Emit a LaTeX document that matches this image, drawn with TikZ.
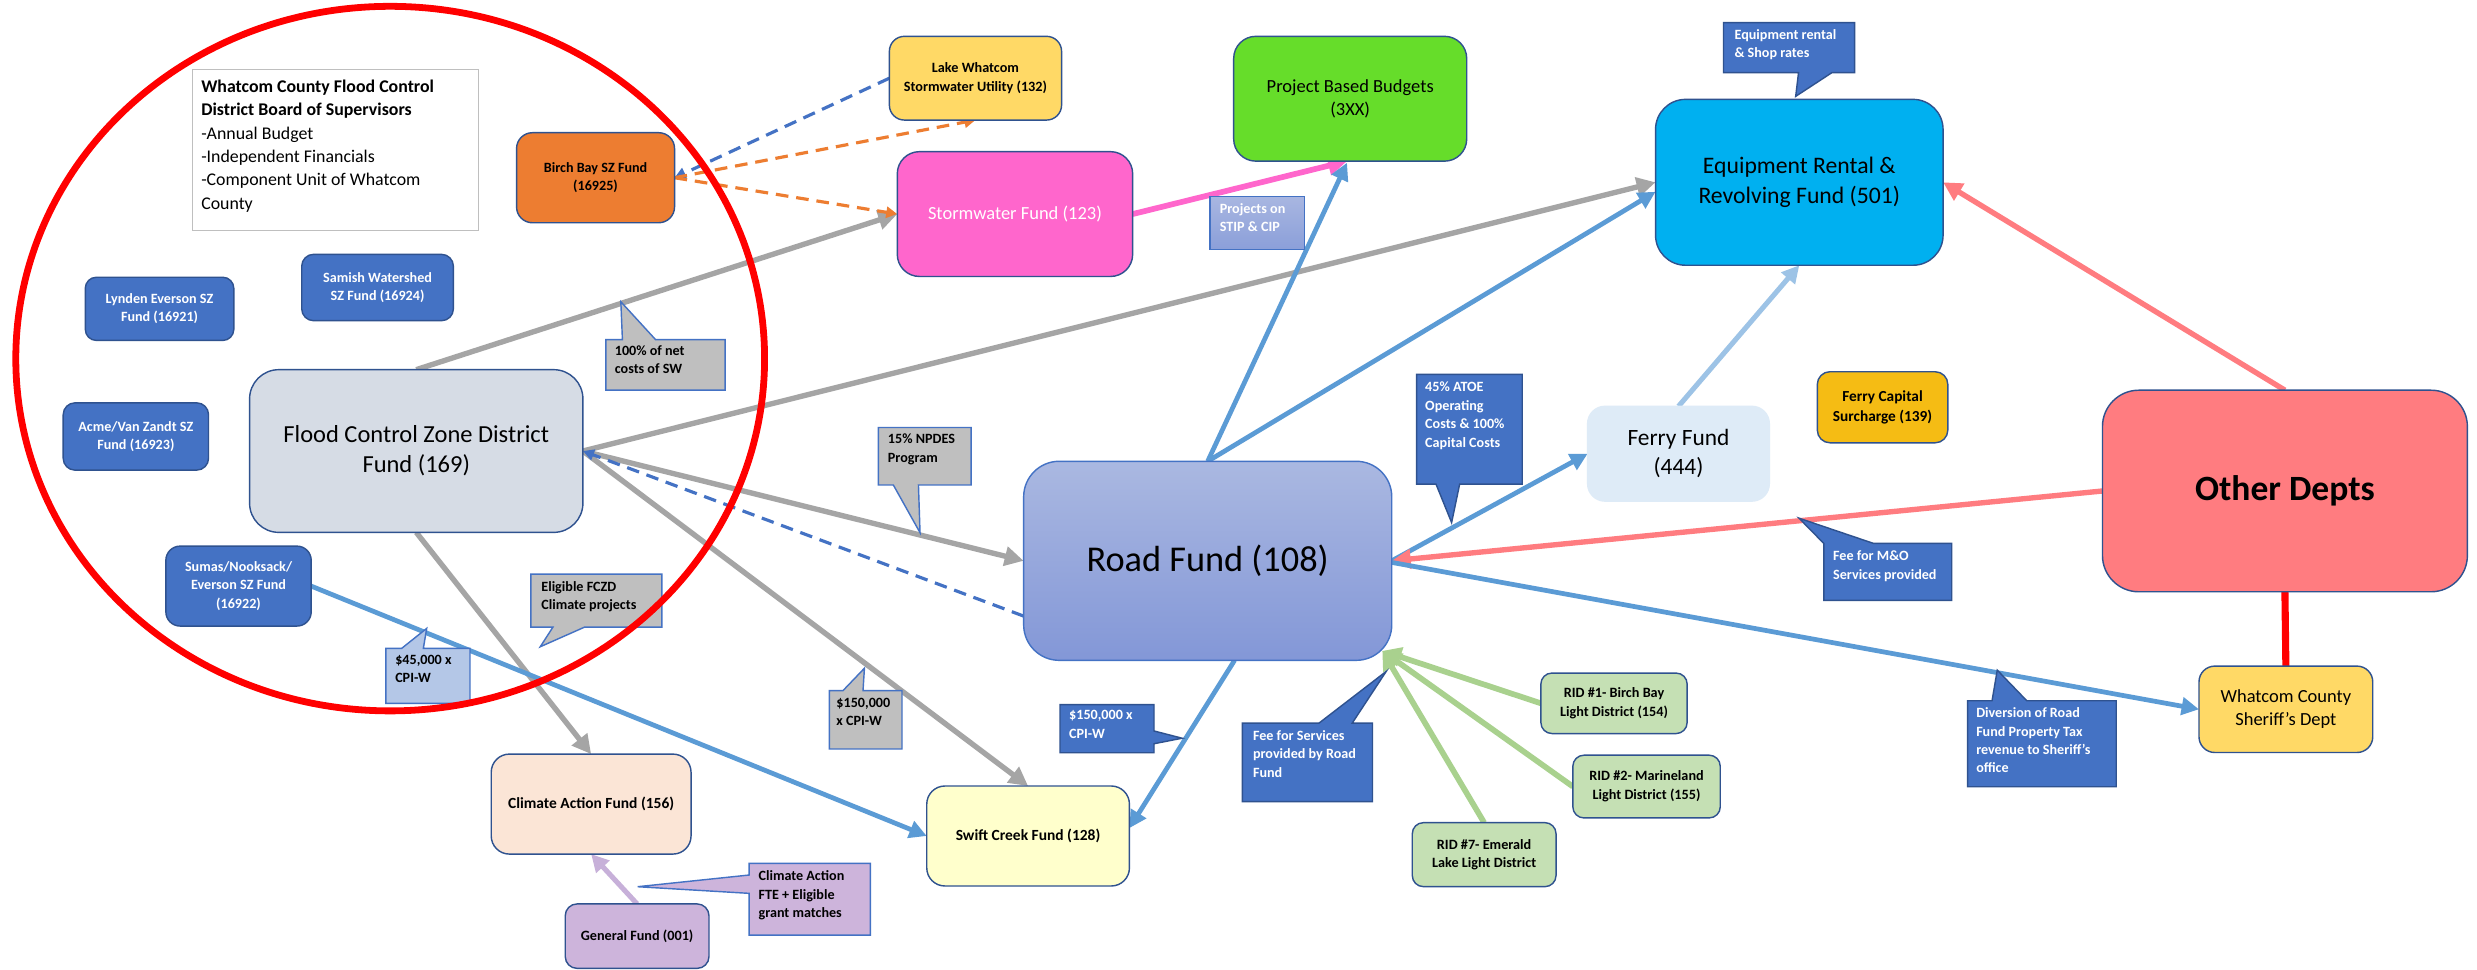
\documentclass[tikz,border=0pt]{standalone}
\usepackage{fontspec}
\setmainfont{Carlito}
\usetikzlibrary{arrows.meta,calc}
\pgfdeclarelayer{bg}
\pgfsetlayers{bg,main}
\definecolor{bordblue}{HTML}{2F528F}
\definecolor{midblue}{HTML}{4472C4}
\definecolor{lineblue}{HTML}{5B9BD5}
\definecolor{linegrey}{HTML}{A5A5A5}
\definecolor{calgrey}{HTML}{BFBFBF}
\definecolor{greybord}{HTML}{BFBFBF}
\definecolor{salmon}{HTML}{FF7C80}
\definecolor{hotpink}{HTML}{FF66CC}
\definecolor{lgreen}{HTML}{A9D18E}
\definecolor{ridgreen}{HTML}{C5E0B4}
\definecolor{paleblue}{HTML}{9DC3E6}
\definecolor{lavline}{HTML}{C7B0D9}
\definecolor{lavfill}{HTML}{CDB4DB}
\definecolor{orangeF}{HTML}{ED7D31}
\definecolor{goldF}{HTML}{FFD966}
\definecolor{amberF}{HTML}{F5BC14}
\definecolor{limeF}{HTML}{66DD2A}
\definecolor{cyanF}{HTML}{00B0F0}
\definecolor{fczdF}{HTML}{D6DCE5}
\definecolor{ferryF}{HTML}{DEEBF7}
\definecolor{swiftF}{HTML}{FFFFCC}
\definecolor{climF}{HTML}{FBE5D6}
\definecolor{lightcal}{HTML}{B4C7E7}
\definecolor{roadTop}{HTML}{AAB8E1}
\definecolor{roadBot}{HTML}{8397D7}
\definecolor{stipTop}{HTML}{A8B6E1}
\definecolor{stipBot}{HTML}{8B9FD9}
\begin{document}
\begin{tikzpicture}[x=1pt,y=-1pt,
  fundbox/.style={draw=bordblue,line width=0.9pt,align=center,inner sep=0pt,outer sep=0pt},
  smallfont/.style={font=\fontsize{8.95}{11.6}\selectfont\bfseries},
  sblue/.style={fundbox,smallfont,fill=midblue,text=white},
  ridbox/.style={fundbox,fill=ridgreen,font=\fontsize{9}{11.9}\selectfont\bfseries,rounded corners=7pt},
  calbox/.style={inner sep=0pt,outer sep=0pt,draw=none},
  caltext/.style={anchor=north west,inner sep=0pt,align=left,smallfont},
  calgreyS/.style={fill=calgrey,draw=midblue,line width=0.9pt},
  calblueS/.style={fill=midblue,draw=bordblue,line width=0.9pt},
  greyarrow/.style={draw=linegrey,line width=3.4pt,-{Triangle[length=12pt,width=12pt]}},
  bluearrow/.style={draw=lineblue,line width=3pt,-{Triangle[length=11pt,width=11pt]}},
  pinkarrow/.style={draw=hotpink,line width=3.6pt,-{Triangle[length=12pt,width=12pt]}},
  salmonarrow/.style={draw=salmon,line width=3.4pt,-{Triangle[length=12pt,width=12pt]}},
  greenarrow/.style={draw=lgreen,line width=3.6pt,-{Triangle[length=12pt,width=12pt]}},
  palearrow/.style={draw=paleblue,line width=3.2pt,-{Triangle[length=11pt,width=11pt]}},
  lavarrow/.style={draw=lavline,line width=3.2pt,-{Triangle[length=11pt,width=11pt]}},
  bluedash/.style={draw=midblue,line width=2pt,dash pattern=on 8pt off 5pt,-{Triangle[length=7pt,width=7pt]}},
  orangedash/.style={draw=orangeF,line width=2pt,dash pattern=on 8pt off 5pt,-{Triangle[length=7pt,width=7pt]}},
  redline/.style={draw=red,line width=4.5pt}
]
\useasboundingbox (0,0) rectangle (1568,614);

% ---------- nodes ----------
\node[fundbox,fill=white,draw=greybord,line width=0.8pt,minimum width=181pt,minimum height=102pt] (whatbox) at (212.5,95) {};
\node[anchor=north west,inner sep=0pt,align=left,font=\fontsize{11.3}{14.8}\selectfont] (whattext) at (127.2,50.4)
  {\textbf{Whatcom County Flood Control}\\\textbf{District Board of Supervisors}\\-Annual Budget\\-Independent Financials\\-Component Unit of Whatcom\\County};

\node[fundbox,smallfont,fill=orangeF,rounded corners=10pt,minimum width=100pt,minimum height=57pt] (birch) at (377,112.5) {Birch Bay SZ Fund\\(16925)};
\node[sblue,rounded corners=7pt,minimum width=94pt,minimum height=40pt] (lynden) at (101,195.5) {Lynden Everson SZ\\Fund (16921)};
\node[sblue,rounded corners=7.5pt,minimum width=96pt,minimum height=42pt] (samish) at (239,182) {Samish Watershed\\SZ Fund (16924)};
\node[sblue,rounded corners=7.5pt,minimum width=92pt,minimum height=42.6pt] (acme) at (86,276.3) {Acme/Van Zandt SZ\\Fund (16923)};
\node[sblue,rounded corners=9pt,minimum width=92pt,minimum height=50.6pt] (sumas) at (151,371) {Sumas/Nooksack/\\Everson SZ Fund\\(16922)};
\node[fundbox,fill=fczdF,rounded corners=18.5pt,minimum width=211pt,minimum height=103pt,font=\fontsize{15.5}{19}\selectfont] (fczd) at (263.5,285.5) {Flood Control Zone District\\Fund (169)};

\node[fundbox,fill=goldF,rounded corners=9.5pt,minimum width=109pt,minimum height=53pt,font=\fontsize{9}{12}\selectfont\bfseries] (lake) at (617.5,49.5) {Lake Whatcom\\Stormwater Utility (132)};
\node[fundbox,fill=hotpink,text=white,rounded corners=14pt,minimum width=149pt,minimum height=79pt,font=\fontsize{11.7}{14.8}\selectfont] (storm) at (642.5,135.5) {Stormwater Fund (123)};
\node[fundbox,fill=limeF,rounded corners=14pt,minimum width=147.5pt,minimum height=79pt,font=\fontsize{11.7}{14.8}\selectfont] (pbb) at (854.7,62.5) {Project Based Budgets\\(3XX)};
\node[draw=midblue,line width=0.8pt,top color=stipTop,bottom color=stipBot,minimum width=60pt,minimum height=33.5pt,inner sep=0pt,outer sep=0pt] (stip) at (796,141.25) {};
\node[caltext,text=white] (stipt) at ($(stip.north west)+(6,4.2)$) {Projects on\\STIP \& CIP};

\node[fundbox,fill=cyanF,rounded corners=19pt,minimum width=182pt,minimum height=105pt,font=\fontsize{15}{19}\selectfont] (er) at (1139,115.4) {Equipment Rental \&\\Revolving Fund (501)};
\node[fundbox,fill=ferryF,draw=ferryF,rounded corners=11pt,minimum width=115pt,minimum height=60pt,font=\fontsize{14.8}{18}\selectfont] (ferry) at (1062.5,287.2) {Ferry Fund\\(444)};
\node[fundbox,fill=amberF,rounded corners=8pt,minimum width=82.6pt,minimum height=45pt,font=\fontsize{9.7}{12.7}\selectfont\bfseries] (fcs) at (1191.7,257.8) {Ferry Capital\\Surcharge (139)};
\node[fundbox,fill=salmon,rounded corners=23pt,minimum width=231pt,minimum height=127.6pt,font=\fontsize{22.5}{27}\selectfont\bfseries] (other) at (1446.4,310.8) {Other Depts};
\node[fundbox,fill=goldF,rounded corners=10pt,minimum width=110pt,minimum height=54.7pt,font=\fontsize{11.7}{14.8}\selectfont] (sheriff) at (1447,449) {Whatcom County\\Sheriff's Dept};

\node[fundbox,draw=midblue,top color=roadTop,bottom color=roadBot,rounded corners=22.5pt,minimum width=233pt,minimum height=126pt,font=\fontsize{23}{27}\selectfont] (roadf) at (764.5,355) {Road Fund (108)};
\node[fundbox,fill=swiftF,rounded corners=11.5pt,minimum width=128.3pt,minimum height=63.3pt,font=\fontsize{9.8}{12.7}\selectfont\bfseries] (swift) at (650.8,529.2) {Swift Creek Fund (128)};
\node[fundbox,fill=climF,rounded corners=11.5pt,minimum width=126.5pt,minimum height=63.3pt,font=\fontsize{9.8}{12.7}\selectfont\bfseries] (climate) at (374.2,509) {Climate Action Fund (156)};
\node[fundbox,fill=lavfill,rounded corners=7.5pt,minimum width=91pt,minimum height=40.8pt,font=\fontsize{9}{11.6}\selectfont\bfseries] (general) at (403.3,592.6) {General Fund (001)};
\node[ridbox,minimum width=92.6pt,minimum height=38.3pt] (rid1) at (1021.7,445.2) {RID \#1- Birch Bay\\Light District (154)};
\node[ridbox,minimum width=93.3pt,minimum height=39.7pt] (rid2) at (1042.3,497.9) {RID \#2- Marineland\\Light District (155)};
\node[ridbox,minimum width=91pt,minimum height=40.5pt] (rid7) at (939.5,541) {RID \#7- Emerald\\Lake Light District};

% ---------- connectors ----------
\begin{pgfonlayer}{bg}
\fill[white] (0,0) rectangle (1568,614);
\draw[greyarrow] (fczd.north) -- (storm.west);
\draw[greyarrow] (fczd.east) -- (er.west);
\draw[greyarrow] (fczd.east) -- (roadf.west);
\draw[greyarrow] (fczd.east) -- (swift.north);
\draw[greyarrow] (fczd.south) -- (climate.north);
\draw[bluedash] ($(roadf.west)+(0,35)$) -- (fczd.east);
\draw[bluearrow] (sumas.east) -- (swift.west);
\draw[lavarrow] (general.north) -- (climate.south);
\draw[bluedash] (lake.west) -- (birch.east);
\draw[orangedash] (birch.east) -- (lake.south);
\draw[orangedash] (birch.east) -- (storm.west);
\draw[pinkarrow] (storm.east) -- ($(pbb.south)+(-2,0)$);
\draw[bluearrow] (roadf.north) -- ($(pbb.south)+(-2,1)$);
\draw[bluearrow] (roadf.north) -- ($(er.west)+(0,6)$);
\draw[bluearrow] (roadf.east) -- (ferry.west);
\draw[salmonarrow] (other.west) -- (roadf.east);
\draw[bluearrow] ($(roadf.east)+(0,1)$) -- (sheriff.west);
\draw[bluearrow] ($(roadf.south)+(17,0)$) -- ($(swift.east)+(0,-5)$);
\draw[palearrow] (ferry.north) -- (er.south);
\draw[salmonarrow] (other.north) -- (er.east);
\draw[redline] (other.south) -- (sheriff.north);
\coordinate (gtip) at ($(roadf.south east)+(-6,-6)$);
\draw[greenarrow] (rid1.west) -- (gtip);
\draw[greenarrow] (rid2.west) -- (gtip);
\draw[greenarrow] (rid7.north) -- (gtip);
\end{pgfonlayer}

% ---------- callouts ----------
\node[calbox,minimum width=75.5pt,minimum height=32pt] (c100) at (421.25,231) {};
\filldraw[calgreyS] (c100.north west) -- (394,215) -- (393,191) -- (415,215) -- (c100.north east) |- (c100.south west) -- cycle;
\node[caltext] (c100t) at ($(c100.north west)+(5.5,3.5)$) {100\% of net\\costs of SW};

\node[calbox,minimum width=83pt,minimum height=33.6pt] (celig) at (377.5,380.2) {};
\filldraw[calgreyS] (celig.north west) -- (celig.north east) -- (celig.south east) -- (370,397) -- (342,409.4) -- (350,397) -- (celig.south west) -- cycle;
\node[caltext] (celigt) at ($(celig.north west)+(6.5,4.6)$) {Eligible FCZD\\Climate projects};

\node[calbox,minimum width=53.2pt,minimum height=34.8pt] (c45) at (270.9,427.8) {};
\filldraw[fill=lightcal,draw=midblue,line width=0.9pt] (c45.north west) -- (254.3,410.4) -- (270.1,397.8) -- (268,410.4) -- (c45.north east) |- (c45.south west) -- cycle;
\node[caltext] (c45t) at ($(c45.north west)+(5.7,4)$) {\$45,000 x\\CPI-W};

\node[calbox,minimum width=46pt,minimum height=36.9pt] (c150g) at (548,455.65) {};
\filldraw[calgreyS] (c150g.north west) -- (533.6,437.2) -- (547.2,423) -- (546.3,437.2) -- (c150g.north east) |- (c150g.south west) -- cycle;
\node[caltext] (c150gt) at ($(c150g.north west)+(4.3,4.3)$) {\$150,000\\x CPI-W};

\node[calbox,minimum width=58.7pt,minimum height=36.4pt] (cnpdes) at (585.35,288.8) {};
\filldraw[calgreyS] (cnpdes.north west) -- (cnpdes.north east) -- (cnpdes.south east) -- (581.4,307) -- (582.4,337.2) -- (565.5,307) -- (cnpdes.south west) -- cycle;
\node[caltext] (cnpdest) at ($(cnpdes.north west)+(5.9,4)$) {15\% NPDES\\Program};

\node[calbox,minimum width=76.8pt,minimum height=45.4pt] (cfte) at (512.6,569.2) {};
\filldraw[fill=lavfill,draw=midblue,line width=0.9pt] (cfte.north west) -- (cfte.north east) -- (cfte.south east) -- (cfte.south west) -- (474.2,565.5) -- (403.6,561.3) -- (474.2,553.9) -- cycle;
\node[caltext] (cftet) at ($(cfte.north west)+(5.8,4.5)$) {Climate Action\\FTE + Eligible\\grant matches};

\node[calbox,minimum width=59.5pt,minimum height=30.5pt] (c150b) at (700.75,461.25) {};
\filldraw[calblueS] (c150b.north west) -- (c150b.north east) -- (730.5,462.7) -- (748.3,467.3) -- (730.5,470.8) -- (c150b.south east) -- (c150b.south west) -- cycle;
\node[caltext,text=white] (c150bt) at ($(c150b.north west)+(5.6,3.6)$) {\$150,000 x\\CPI-W};

\node[calbox,minimum width=82.4pt,minimum height=49.7pt] (cfee) at (827.6,482.55) {};
\filldraw[calblueS] (cfee.north west) -- (835,457.7) -- (877.5,425) -- (856,457.7) -- (cfee.north east) |- (cfee.south west) -- cycle;
\node[caltext,text=white] (cfeet) at ($(cfee.north west)+(6.6,4.6)$) {Fee for Services\\provided by Road\\Fund};

\node[calbox,minimum width=66.9pt,minimum height=69.4pt] (catoe) at (930.15,271.7) {};
\filldraw[calblueS] (catoe.north west) -- (catoe.north east) -- (catoe.south east) -- (924,306.4) -- (918.9,330.8) -- (909,306.4) -- (catoe.south west) -- cycle;
\node[caltext,text=white,font=\fontsize{8.95}{11.8}\selectfont\bfseries] (catoet) at ($(catoe.north west)+(5.3,4.5)$) {45\% ATOE\\Operating\\Costs \& 100\%\\Capital Costs};

\node[calbox,minimum width=81pt,minimum height=36pt] (cmo) at (1195,362) {};
\filldraw[calblueS] (cmo.north west) -- (1138.8,328) -- (1186,344) -- (cmo.north east) |- (cmo.south west) -- cycle;
\node[caltext,text=white] (cmot) at ($(cmo.north west)+(5.7,4.5)$) {Fee for M\&O\\Services provided};

\node[calbox,minimum width=94.1pt,minimum height=54.4pt] (cdiv) at (1292.55,470.8) {};
\filldraw[calblueS] (cdiv.north west) -- (1261,443.6) -- (1264.3,424.2) -- (1283,443.6) -- (cdiv.north east) |- (cdiv.south west) -- cycle;
\node[caltext,text=white] (cdivt) at ($(cdiv.north west)+(5.3,4.3)$) {Diversion of Road\\Fund Property Tax\\revenue to Sheriff's\\office};

\node[calbox,minimum width=83pt,minimum height=31.7pt] (cer) at (1132.5,30.15) {};
\filldraw[calblueS] (cer.north west) -- (cer.north east) -- (cer.south east) -- (1159.6,46) -- (1136.7,61) -- (1138.5,46) -- (cer.south west) -- cycle;
\node[caltext,text=white] (cert) at ($(cer.north west)+(6.8,4.2)$) {Equipment rental\\\& Shop rates};

% ---------- red circle ----------
\draw[red,line width=4.3pt] (247,227) ellipse [x radius=237pt, y radius=223pt];
\end{tikzpicture}
\end{document}
